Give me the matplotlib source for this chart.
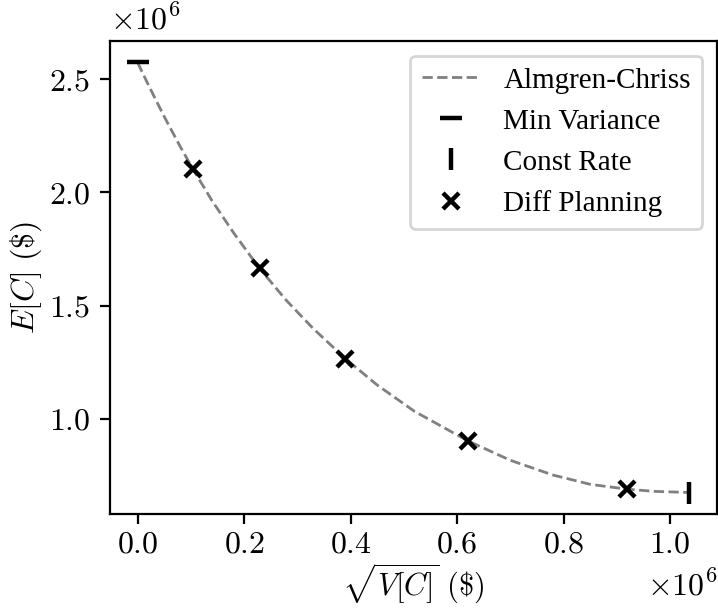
import numpy as np
import matplotlib
matplotlib.use("Agg")
import matplotlib.pyplot as plt
from matplotlib.ticker import FuncFormatter

plt.rcParams["font.family"] = "serif"
plt.rcParams["font.serif"] = ["Liberation Serif", "DejaVu Serif"]
plt.rcParams["mathtext.fontset"] = "cm"
plt.rcParams["font.size"] = 11.5

# efficient frontier (sqrt(V) in $, E in $)
frontier_std = [0.0, 0.02e6, 0.05e6, 0.08e6, 0.104e6, 0.14e6, 0.18e6, 0.229e6, 0.28e6, 0.33e6,
                0.39e6, 0.45e6, 0.52e6, 0.62e6, 0.70e6, 0.78e6, 0.85e6, 0.918e6, 0.97e6, 1.036e6]
frontier_mean = [2.573e6, 2.475e6, 2.334e6, 2.202e6, 2.102e6, 1.962e6, 1.822e6, 1.664e6, 1.521e6, 1.398e6,
                 1.266e6, 1.149e6, 1.033e6, 0.903e6, 0.817e6, 0.752e6, 0.711e6, 0.690e6, 0.680e6, 0.675e6]

min_var_std, min_var_mean = [0.0], [2.573e6]
const_rate_std, const_rate_mean = [1.036e6], [0.675e6]

diff_std = [0.104e6, 0.229e6, 0.390e6, 0.620e6, 0.918e6]
diff_mean = [2.102e6, 1.664e6, 1.266e6, 0.903e6, 0.690e6]

fig, ax = plt.subplots(figsize=(3.59, 3.04), dpi=200)
fig.subplots_adjust(left=0.1532, right=0.9986, top=0.9326, bottom=0.1546)

ax.plot(frontier_std, frontier_mean, "--", color="gray", lw=1.0, label="Almgren-Chriss")
ax.plot(min_var_std, min_var_mean, "_", color="black", ms=8, mew=1.6, label="Min Variance")
ax.plot(const_rate_std, const_rate_mean, "|", color="black", ms=8, mew=1.6, label="Const Rate")
ax.plot(diff_std, diff_mean, "x", color="black", ms=6, mew=1.6, ls="none", label="Diff Planning")

fmt = FuncFormatter(lambda v, p: f"${v / 1e6:.1f}$")
ax.xaxis.set_major_formatter(fmt)
ax.yaxis.set_major_formatter(fmt)
ax.set_xticks(np.arange(0, 1.01e6, 0.2e6))
ax.set_yticks([1.0e6, 1.5e6, 2.0e6, 2.5e6])
ax.tick_params(axis="x", pad=2.5)

ax.text(0.0, 1.01, r"$\times10^{6}$", transform=ax.transAxes, ha="left", va="bottom")
ax.text(1.0, -0.12, r"$\times10^{6}$", transform=ax.transAxes, ha="right", va="top")

ax.set_xlabel(r"$\sqrt{V[C]}\ (\$)$", fontsize=11)
ax.xaxis.set_label_coords(0.5, -0.1)
ax.set_ylabel(r"$E[C]\ (\$)$", labelpad=2)
ax.legend(loc="upper right", fontsize=10.5)

plt.savefig("out.png", dpi=200)
